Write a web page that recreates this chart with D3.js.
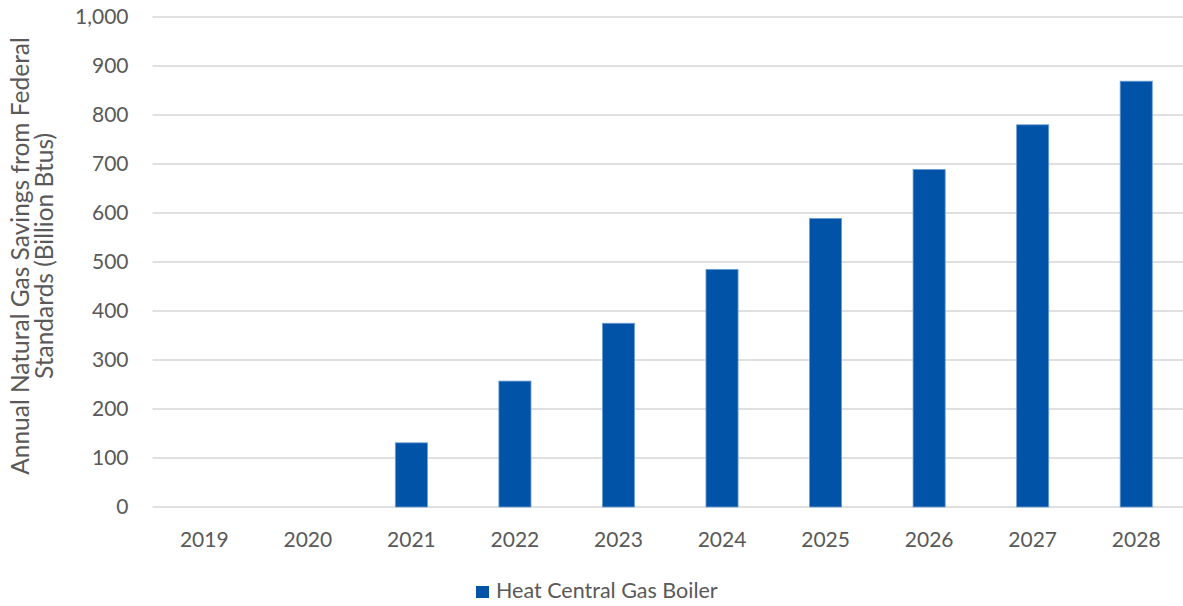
<!DOCTYPE html>
<html>
<head>
<meta charset="utf-8">
<script src="https://cdn.jsdelivr.net/npm/d3@7"></script>
<style>
  html, body { margin: 0; padding: 0; background: #fff; }
  svg { display: block; font-family: Lato, "Open Sans", sans-serif; }
</style>
</head>
<body>
<svg id="chart" width="1183" height="606"></svg>
<script>
// Annual natural gas savings (billion Btus) by year
const years = ["2019", "2020", "2021", "2022", "2023", "2024", "2025", "2026", "2027", "2028"];
const savings = [0, 0, 131, 257, 375, 485, 589, 689, 780, 869];
const yTicks = [0, 100, 200, 300, 400, 500, 600, 700, 800, 900, 1000];
const seriesName = "Heat Central Gas Boiler";
const axisTitle = ["Annual Natural Gas Savings from Federal", "Standards (Billion Btus)"];

const svg = d3.select("#chart");
const margin = { left: 152.5, right: -5, top: 17, bottom: 99 };
const W = 1183, H = 606;
const fontSize = 21;

const x = d3.scaleBand()
  .domain(years)
  .range([margin.left, W - margin.right])
  .paddingInner(0.69)
  .paddingOuter(0.345);

const y = d3.scaleLinear()
  .domain([0, 1000])
  .range([H - margin.bottom, margin.top]);

const textColor = "#595959";
const barColor = "#0053a6";

// horizontal gridlines
svg.append("g")
  .selectAll("line")
  .data(yTicks)
  .join("line")
  .attr("x1", margin.left)
  .attr("x2", W)
  .attr("y1", d => y(d))
  .attr("y2", d => y(d))
  .attr("stroke", "#d6d6d6")
  .attr("stroke-width", 1.5);

// y axis labels
const yAxis = d3.axisLeft(y)
  .tickValues(yTicks)
  .tickFormat(d3.format(","))
  .tickSize(0)
  .tickPadding(0);
const gy = svg.append("g")
  .attr("transform", `translate(${margin.left - 24},0)`)
  .call(yAxis);
gy.select(".domain").remove();
gy.selectAll("text")
  .attr("fill", textColor)
  .attr("font-size", fontSize)
  .attr("font-family", "Lato, 'Open Sans', sans-serif");

// x axis labels
const xAxis = d3.axisBottom(x).tickSize(0).tickPadding(0);
const gx = svg.append("g")
  .attr("transform", `translate(0,${y(0) + 25})`)
  .call(xAxis);
gx.select(".domain").remove();
gx.selectAll("text")
  .attr("fill", textColor)
  .attr("font-size", fontSize)
  .attr("font-family", "Lato, 'Open Sans', sans-serif");

// bars
svg.append("g")
  .selectAll("rect")
  .data(years.map((yr, i) => ({ yr, v: savings[i] })))
  .join("rect")
  .attr("x", d => x(d.yr))
  .attr("width", x.bandwidth())
  .attr("y", d => y(d.v))
  .attr("height", d => y(0) - y(d.v))
  .attr("fill", barColor)
  .attr("stroke", "#6f9fd6")
  .attr("stroke-width", d => d.v > 0 ? 0.8 : 0);

// y axis title, two lines
const title = svg.append("text")
  .attr("transform", `translate(29,${(y(0) + y(1000)) / 2 - 6}) rotate(-90)`)
  .attr("text-anchor", "middle")
  .attr("fill", textColor)
  .attr("font-size", 24.5);
title.selectAll("tspan")
  .data(axisTitle)
  .join("tspan")
  .attr("x", 0)
  .attr("y", (d, i) => i * 24)
  .text(d => d);

// legend
const legend = svg.append("g").attr("transform", "translate(476,586)");
legend.append("rect")
  .attr("width", 13).attr("height", 12)
  .attr("fill", barColor);
legend.append("text")
  .attr("x", 20).attr("y", 12)
  .attr("fill", textColor)
  .attr("font-size", 21.5)
  .text(seriesName);
</script>
</body>
</html>
